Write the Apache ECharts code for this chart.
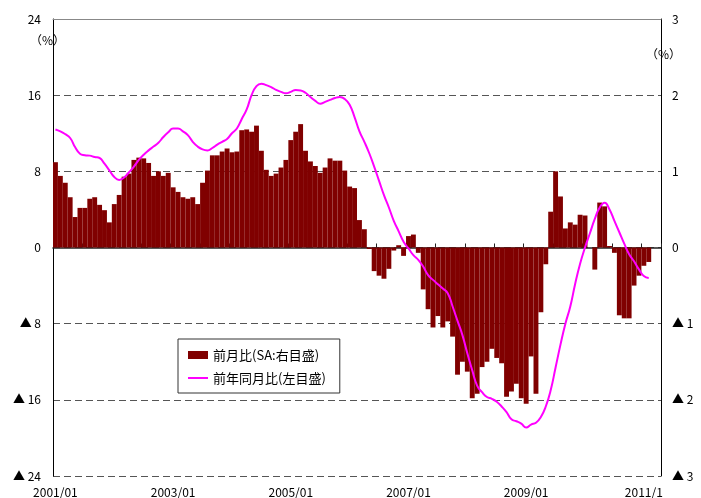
<!DOCTYPE html>
<html>
<head>
<meta charset="utf-8">
<script src="https://cdn.jsdelivr.net/npm/echarts/dist/echarts.min.js"></script>
<style>
  html, body { margin: 0; padding: 0; background: #fff; }
  #chart { width: 701px; height: 498px; }
</style>
</head>
<body>
<div id="chart"></div>
<script>
// months 2001/01 .. 2011/04 (axis runs two months past the data)
const months = [];
for (let y = 2001; y <= 2011; y++) {
  for (let m = 1; m <= 12; m++) {
    if (y === 2011 && m > 4) break;
    months.push(y + "/" + (m < 10 ? "0" + m : m));
  }
}

// x tick labels
const xTickIndex = [0, 24, 48, 72, 96, 120];
const xTickText = ["2001/01", "2003/01", "2005/01", "2007/01", "2009/01", "2011/1"];

// y tick labels
const leftTicks = [-24, -16, -8, 0, 8, 16, 24];
const leftTickText = ["▲ 24", "▲ 16", "▲ 8", "0", "8", "16", "24"];
const rightTicks = [-3, -2, -1, 0, 1, 2, 3];
const rightTickText = ["▲ 3", "▲ 2", "▲ 1", "0", "1", "2", "3"];

// 前月比 (SA, right axis, %)
const momChange = [
  1.12, 0.94, 0.85, 0.66, 0.40, 0.52, 0.52, 0.64, 0.66, 0.56, 0.49, 0.33,
  0.57, 0.69, 0.93, 0.97, 1.15, 1.18, 1.17, 1.11, 0.94, 1.00, 0.94, 0.98,
  0.79, 0.73, 0.66, 0.64, 0.66, 0.57, 0.85, 1.01, 1.21, 1.21, 1.26, 1.30,
  1.25, 1.26, 1.54, 1.55, 1.52, 1.60, 1.27, 1.02, 0.94, 0.97, 1.05, 1.15,
  1.41, 1.52, 1.62, 1.27, 1.13, 1.07, 0.98, 1.05, 1.17, 1.14, 1.14, 1.01,
  0.80, 0.78, 0.36, 0.24, -0.02, -0.31, -0.37, -0.41, -0.28, -0.04, 0.03, -0.11,
  0.15, 0.17, -0.07, -0.55, -0.81, -1.05, -0.90, -1.05, -0.97, -1.17, -1.67, -1.50,
  -1.63, -1.98, -1.92, -1.57, -1.50, -1.33, -1.45, -1.52, -1.96, -1.89, -1.79, -1.98,
  -2.05, -1.43, -1.92, -0.85, -0.22, 0.47, 1.00, 0.67, 0.25, 0.33, 0.30, 0.43,
  0.42, 0, -0.29, 0.59, 0.54, 0.02, -0.07, -0.89, -0.93, -0.93, -0.50, -0.37,
  -0.24, -0.19
];

// 前年同月比 (left axis, %)
const yoyChange = [
  12.4, 12.2, 11.9, 11.5, 10.55, 9.85, 9.7, 9.65, 9.5, 9.4, 8.8, 8.1,
  7.4, 7.1, 7.35, 7.9, 8.5, 9.2, 9.75, 10.2, 10.6, 11.0, 11.6, 12.1,
  12.5, 12.5, 12.2, 11.8, 11.1, 10.6, 10.3, 10.2, 10.45, 10.8, 11.1, 11.4,
  12.0, 12.5, 13.5, 14.5, 16.0, 16.95, 17.2, 17.05, 16.85, 16.55, 16.35, 16.2,
  16.35, 16.55, 16.5, 16.25, 15.8, 15.4, 15.1, 15.3, 15.5, 15.7, 15.8, 15.6,
  15.0, 13.7, 12.2, 11.1, 9.9, 8.5, 7.0, 5.5, 4.2, 2.8, 1.7, 0.6,
  -0.1, -0.8, -1.3, -2.0, -2.9, -3.4, -3.85, -4.3, -4.8, -6.2, -7.7, -9.2,
  -11.1, -12.9, -14.5, -15.2, -15.7, -15.9, -16.2, -16.7, -17.3, -18.05, -18.25, -18.5,
  -18.9, -18.6, -18.4, -17.8, -16.7, -15.0, -12.6, -10.2, -8.0, -6.2, -3.8, -1.7,
  0.0, 1.5, 3.0, 4.2, 4.7, 4.0, 2.8, 1.6, 0.4, -0.7, -1.45, -2.3,
  -3.0, -3.2
];

const font = "'Noto Sans CJK JP', 'Noto Sans', sans-serif";

let myChart = echarts.init(document.getElementById("chart"), null, { renderer: "canvas" });

let option = {
  animation: false,
  backgroundColor: "#fff",
  textStyle: { fontFamily: font },
  grid: { left: 53, right: 40, top: 19, bottom: 22 },
  legend: {
    orient: "vertical",
    left: 178,
    top: 339,
    padding: [8, 14, 7, 10],
    itemGap: 7,
    itemWidth: 20,
    itemHeight: 8,
    symbolKeepAspect: true,
    borderColor: "#333",
    borderWidth: 1,
    backgroundColor: "#fff",
    textStyle: { fontFamily: font, fontSize: 13, color: "#000", lineHeight: 16 },
    data: [
      { name: "前月比(SA:右目盛)", icon: "rect" },
      { name: "前年同月比(左目盛)", icon: "path://M0,0H20V2H0Z" }
    ]
  },
  xAxis: [
    {
      type: "category",
      data: months,
      position: "bottom",
      axisLine: { onZero: true, onZeroAxisIndex: 0, lineStyle: { color: "#222", width: 1.5 } },
      axisTick: { show: true, inside: true, length: 4, interval: 5, lineStyle: { color: "#222" } },
      axisLabel: { show: false },
      splitLine: { show: false }
    },
    {
      type: "category",
      data: months,
      position: "bottom",
      axisLine: { show: false, onZero: false },
      axisTick: { show: false },
      axisLabel: {
        interval: (i) => xTickIndex.indexOf(i) >= 0,
        formatter: (v, i) => xTickText[xTickIndex.indexOf(i)],
        margin: 10,
        color: "#000",
        fontSize: 12,
        fontFamily: font
      }
    },
    {
      type: "category",
      data: months,
      position: "top",
      axisLine: { show: true, onZero: false, lineStyle: { color: "#888" } },
      axisTick: { show: false },
      axisLabel: { show: false }
    }
  ],
  yAxis: [
    {
      type: "value",
      position: "left",
      min: -24,
      max: 24,
      interval: 8,
      axisLine: { show: true, lineStyle: { color: "#000" } },
      axisTick: { show: false },
      axisLabel: {
        formatter: (v) => leftTickText[leftTicks.indexOf(v)],
        margin: 12,
        color: "#000",
        fontSize: 12,
        fontFamily: font
      },
      splitLine: { show: true, lineStyle: { color: "#555", type: [7, 4] } }
    },
    {
      type: "value",
      position: "right",
      min: -3,
      max: 3,
      interval: 1,
      axisLine: { show: true, lineStyle: { color: "#000" } },
      axisTick: { show: false },
      axisLabel: {
        formatter: (v) => rightTickText[rightTicks.indexOf(v)],
        margin: 11,
        color: "#000",
        fontSize: 12,
        fontFamily: font
      },
      splitLine: { show: false }
    }
  ],
  graphic: [
    { type: "text", left: 30, top: 34, style: { text: "（%）", font: "12px " + font, fill: "#000" } },
    { type: "text", left: 646, top: 48, style: { text: "（%）", font: "12px " + font, fill: "#000" } }
  ],
  series: [
    {
      name: "前月比(SA:右目盛)",
      type: "bar",
      xAxisIndex: 0,
      yAxisIndex: 1,
      barWidth: "100%",
      itemStyle: { color: "#800000" },
      data: momChange
    },
    {
      name: "前年同月比(左目盛)",
      type: "line",
      xAxisIndex: 0,
      yAxisIndex: 0,
      smooth: true,
      symbol: "none",
      lineStyle: { color: "#ff00ff", width: 2 },
      itemStyle: { color: "#ff00ff" },
      data: yoyChange
    }
  ]
};

myChart.setOption(option);
window.addEventListener("resize", myChart.resize);
</script>
</body>
</html>
